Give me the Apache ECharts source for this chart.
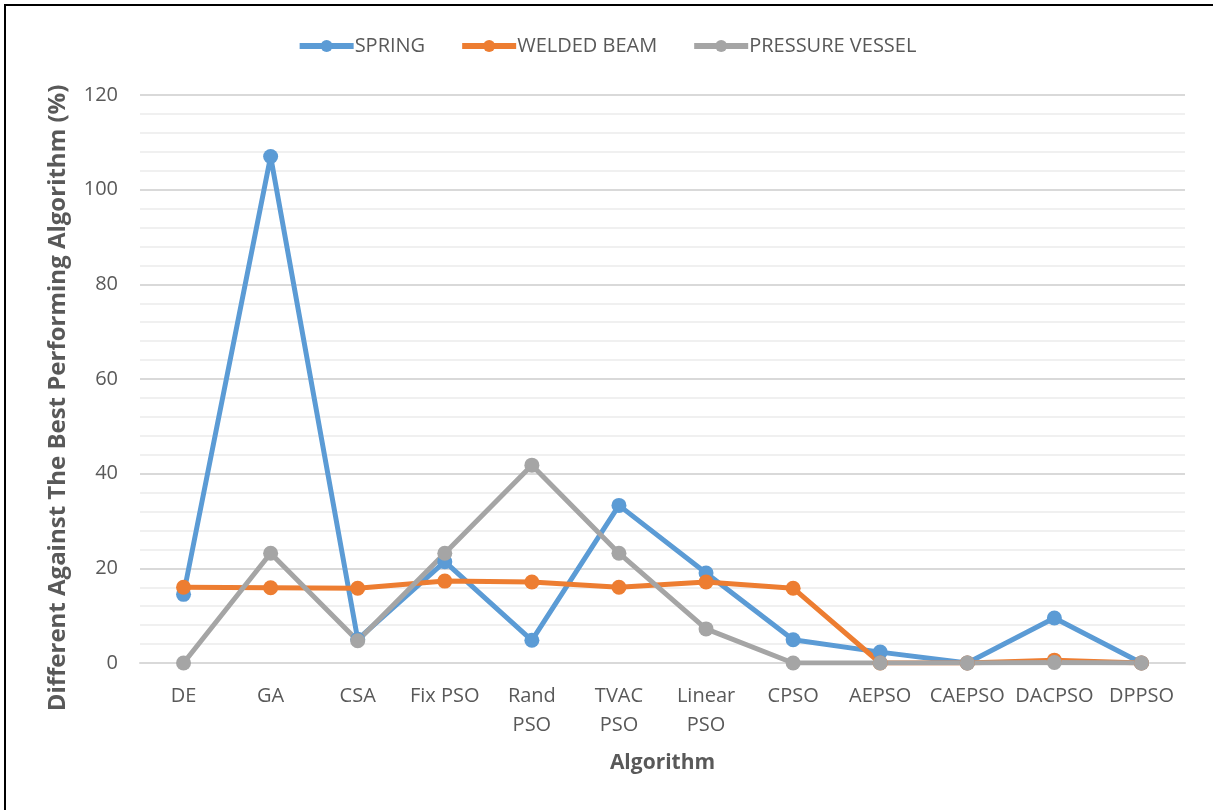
<!DOCTYPE html>
<html>
<head>
<meta charset="utf-8">
<script src="https://cdn.jsdelivr.net/npm/echarts@6/dist/echarts.min.js"></script>
<style>
  html, body { margin: 0; padding: 0; background: #fff; }
  #chart { width: 1213px; height: 810px; }
</style>
</head>
<body>
<div id="chart"></div>
<script>
// Algorithms compared on three engineering design problems
const categories = ['DE', 'GA', 'CSA', 'Fix PSO', 'Rand\nPSO', 'TVAC\nPSO', 'Linear\nPSO', 'CPSO', 'AEPSO', 'CAEPSO', 'DACPSO', 'DPPSO'];

// Difference against the best performing algorithm (%)
const spring       = [14.5, 107, 5.0, 21.4, 4.8, 33.3, 19.0, 4.9, 2.3, 0, 9.5, 0];
const weldedBeam   = [16.0, 15.9, 15.8, 17.3, 17.1, 16.0, 17.1, 15.8, 0, 0, 0.6, 0];
const pressureVessel = [0, 23.2, 4.7, 23.2, 41.8, 23.2, 7.2, 0, 0, 0, 0.1, 0];

const yTicks = { min: 0, max: 120, interval: 20 };

const FONT = 'Open Sans';
const chart = echarts.init(document.getElementById('chart'), null, { renderer: 'canvas' });

function lineSeries(name, data, color) {
  return {
    name: name,
    type: 'line',
    data: data,
    symbol: 'circle',
    symbolSize: 15,
    showSymbol: true,
    lineStyle: { width: 5, color: color },
    itemStyle: { color: color },
    emphasis: { disabled: true },
    animation: false
  };
}

chart.setOption({
  backgroundColor: '#ffffff',
  animation: false,
  color: ['#5B9BD5', '#ED7D31', '#A5A5A5'],
  legend: {
    top: 31,
    left: 'center',
    itemWidth: 54,
    itemHeight: 15,
    itemGap: 34,
    lineStyle: { width: 6 },
    textStyle: { fontFamily: FONT, fontSize: 20, color: '#595959', padding: [0, 0, 0, -4] },
    data: ['SPRING', 'WELDED BEAM', 'PRESSURE VESSEL']
  },
  grid: { left: 140, right: 28, top: 95, bottom: 147, containLabel: false },
  xAxis: {
    type: 'category',
    data: categories,
    boundaryGap: true,
    name: 'Algorithm',
    nameLocation: 'middle',
    nameGap: 90,
    nameTextStyle: { fontFamily: FONT, fontSize: 21, fontWeight: 'bold', color: '#595959' },
    axisLine: { show: true, lineStyle: { color: '#d9d9d9', width: 2 } },
    axisTick: { show: false },
    axisLabel: {
      interval: 0,
      margin: 19,
      fontFamily: FONT,
      fontSize: 20,
      color: '#595959',
      lineHeight: 29
    }
  },
  yAxis: {
    type: 'value',
    min: yTicks.min,
    max: yTicks.max,
    interval: yTicks.interval,
    axisLine: { show: false },
    axisTick: { show: false },
    axisLabel: { margin: 22, fontFamily: FONT, fontSize: 20, color: '#595959' },
    splitLine: { show: true, lineStyle: { color: '#d9d9d9', width: 2 } },
    minorTick: { show: false, splitNumber: 5 },
    minorSplitLine: { show: true, lineStyle: { color: '#f0f0f0', width: 2 } }
  },
  graphic: [
    {
      type: 'rect',
      silent: true,
      shape: { x: 5, y: 5, width: 1400, height: 1000 },
      style: { fill: 'none', stroke: '#000', lineWidth: 2 }
    },
    {
      type: 'text',
      silent: true,
      x: 58,
      y: 398,
      rotation: Math.PI / 2,
      style: {
        text: 'Different Against The Best Performing Algorithm (%)',
        fontFamily: FONT,
        fontSize: 24,
        fontWeight: 'bold',
        fill: '#595959',
        align: 'center',
        verticalAlign: 'middle'
      }
    }
  ],
  series: [
    lineSeries('SPRING', spring, '#5B9BD5'),
    lineSeries('WELDED BEAM', weldedBeam, '#ED7D31'),
    lineSeries('PRESSURE VESSEL', pressureVessel, '#A5A5A5')
  ]
});
</script>
</body>
</html>
